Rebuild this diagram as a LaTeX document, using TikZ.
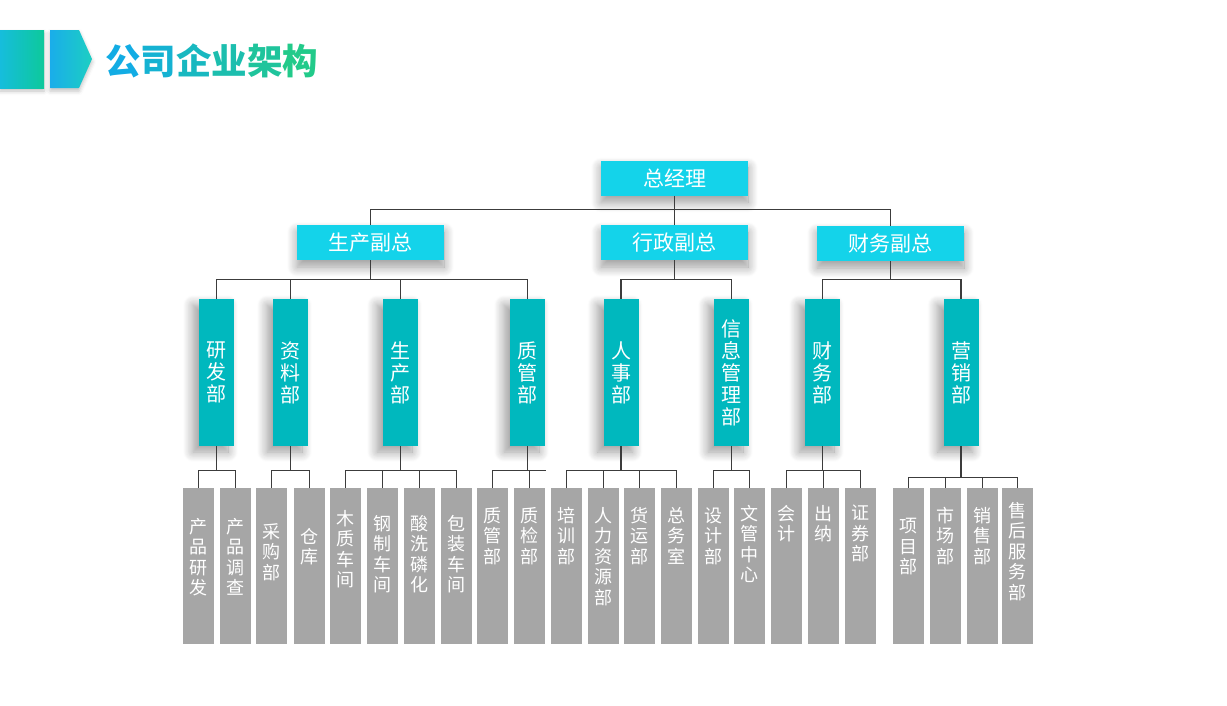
\documentclass[tikz,border=0pt]{standalone}
\usepackage{fontspec}
\newfontfamily\cjk{Noto Sans CJK SC}
\usetikzlibrary{shadows.blur,calc}
\definecolor{topc}{HTML}{14D3EA}
\definecolor{midc}{HTML}{00B8BE}
\definecolor{botc}{HTML}{A6A6A6}
\definecolor{linec}{HTML}{3C3C3C}
\definecolor{tA}{HTML}{12ACE4}
\definecolor{tB}{HTML}{22CA8A}
\definecolor{dA}{HTML}{16BDDC}
\definecolor{dB}{HTML}{0DC99B}
\definecolor{eA}{HTML}{1AADEA}
\definecolor{eB}{HTML}{1CCFC2}
\tikzset{
  topbox/.style={fill=topc, minimum width=147pt, minimum height=35pt, inner sep=0pt,
    text=white, font=\cjk\fontsize{21}{24}\selectfont,
    blur shadow={shadow xshift=0pt, shadow yshift=-7pt, shadow blur radius=10pt, shadow blur steps=12, shadow opacity=40}},
  midbox/.style={fill=midc, minimum width=35pt, minimum height=147pt, inner sep=0pt,
    text=white, font=\cjk\fontsize{20}{22}\selectfont, align=center,
    blur shadow={shadow xshift=-6pt, shadow yshift=-6pt, shadow blur radius=10pt, shadow blur steps=12, shadow opacity=40}},
  botbox/.style={fill=botc, minimum width=31pt, minimum height=156pt, inner sep=0pt},
  bottext/.style={text=white, font=\cjk\fontsize{18}{20.5}\selectfont, align=center,
    inner sep=0pt, anchor=north},
  conn/.style={draw=linec, line width=1.3pt},
}
\begin{document}
\begin{tikzpicture}[x=1pt,y=-1pt]
\useasboundingbox (0,0) rectangle (1227,705);
% title decoration
\path[left color=dA, right color=dB, blur shadow={shadow xshift=0pt, shadow yshift=-3pt, shadow blur radius=4pt, shadow opacity=25}] (0,30) rectangle (44,88);
\path[left color=eA, right color=eB, blur shadow={shadow xshift=0pt, shadow yshift=-3pt, shadow blur radius=4pt, shadow opacity=25}] (50,30) -- (79,30) -- (92,59) -- (79,88) -- (50,88) -- cycle;
\node[anchor=west, inner sep=0pt, font=\cjk\bfseries\fontsize{35.5}{38}\selectfont] (title) at (105,61)
  {\textcolor{tA}{公}\textcolor{tB!20!tA}{司}\textcolor{tB!40!tA}{企}\textcolor{tB!60!tA}{业}\textcolor{tB!80!tA}{架}\textcolor{tB}{构}};
% top levels
\node[topbox] (gm) at (674.5,178) {总经理};
\node[topbox] (v1) at (370.5,242.5) {生产副总};
\node[topbox] (v2) at (674.5,242.5) {行政副总};
\node[topbox] (v3) at (890.5,243.5) {财务副总};
% departments
\node[midbox] (d1) at (216.5,372.5) {研\\发\\部};
\node[midbox] (d2) at (290.5,372.5) {资\\料\\部};
\node[midbox] (d3) at (400.5,372.5) {生\\产\\部};
\node[midbox] (d4) at (527.5,372.5) {质\\管\\部};
\node[midbox] (d5) at (621,372.5) {人\\事\\部};
\node[midbox] (d6) at (731.5,372.5) {信\\息\\管\\理\\部};
\node[midbox] (d7) at (822.5,372.5) {财\\务\\部};
\node[midbox] (d8) at (961,372.5) {营\\销\\部};
% bottom units
\foreach \i/\l/\t/\s in {
  1/183/{产\\品\\研\\发}/518, 2/220/{产\\品\\调\\查}/518, 3/256/{采\\购\\部}/523,
  4/294/{仓\\库}/528, 5/330/{木\\质\\车\\间}/510, 6/367/{钢\\制\\车\\间}/515,
  7/404/{酸\\洗\\磷\\化}/515, 8/441/{包\\装\\车\\间}/515, 9/477/{质\\管\\部}/507,
  10/514/{质\\检\\部}/507, 11/551/{培\\训\\部}/507, 12/588/{人\\力\\资\\源\\部}/507,
  13/624/{货\\运\\部}/507, 14/661/{总\\务\\室}/507, 15/698/{设\\计\\部}/507,
  16/734/{文\\管\\中\\心}/505, 17/771/{会\\计}/505, 18/808/{出\\纳}/505,
  19/845/{证\\券\\部}/505, 20/893/{项\\目\\部}/518, 21/930/{市\\场\\部}/507,
  22/967/{销\\售\\部}/507, 23/1002/{售\\后\\服\\务\\部}/502}{
  \node[botbox] (c\i) at (\l+15.5,566) {};
  \node[bottext] (t\i) at (\l+15.5,\s) {\t};
}
% connectors level 1-2
\draw[conn] (gm.south) -- ++(0,14) coordinate (b0);
\draw[conn] (b0) -| (v1.north);
\draw[conn] (b0) -| (v3.north);
\draw[conn] (b0) -- (v2.north);
% level 2-3
\draw[conn] (v1.south) -- ++(0,19) coordinate (b1);
\foreach \d in {d1,d2,d3,d4} \draw[conn] (b1) -| (\d.north);
\draw[conn] (v2.south) -- ++(0,19) coordinate (b2);
\foreach \d in {d5,d6} \draw[conn] (b2) -| (\d.north);
\draw[conn] (v3.south) -- ++(0,18) coordinate (b3);
\foreach \d in {d7,d8} \draw[conn] (b3) -| (\d.north);
% level 3-4
\draw[conn] (d1.south) -- ++(0,24) coordinate (e1);
\foreach \c in {c1,c2} \draw[conn] (e1) -| (\c.north);
\draw[conn] (d2.south) -- ++(0,24) coordinate (e2);
\foreach \c in {c3,c4} \draw[conn] (e2) -| (\c.north);
\draw[conn] (d3.south) -- ++(0,24) coordinate (e3);
\foreach \c in {c5,c6,c7,c8} \draw[conn] (e3) -| (\c.north);
\draw[conn] (d4.south) -- ++(0,24) coordinate (e4);
\foreach \c in {c9,c10} \draw[conn] (e4) -| (\c.north);
\draw[conn] (e4) -- ++(18.5,0) coordinate (e4x);
\draw[conn] (d5.south) -- ++(0,24) coordinate (e5);
\foreach \c in {c11,c12,c13,c14} \draw[conn] (e5) -| (\c.north);
\draw[conn] (d6.south) -- ++(0,24) coordinate (e6);
\foreach \c in {c15,c16} \draw[conn] (e6) -| (\c.north);
\draw[conn] (d7.south) -- ++(0,24) coordinate (e7);
\foreach \c in {c17,c18,c19} \draw[conn] (e7) -| (\c.north);
\draw[conn] (d8.south) -- ++(0,31) coordinate (e8);
\foreach \c in {c20,c21,c22,c23} \draw[conn] (e8) -| (\c.north);
\end{tikzpicture}
\end{document}
